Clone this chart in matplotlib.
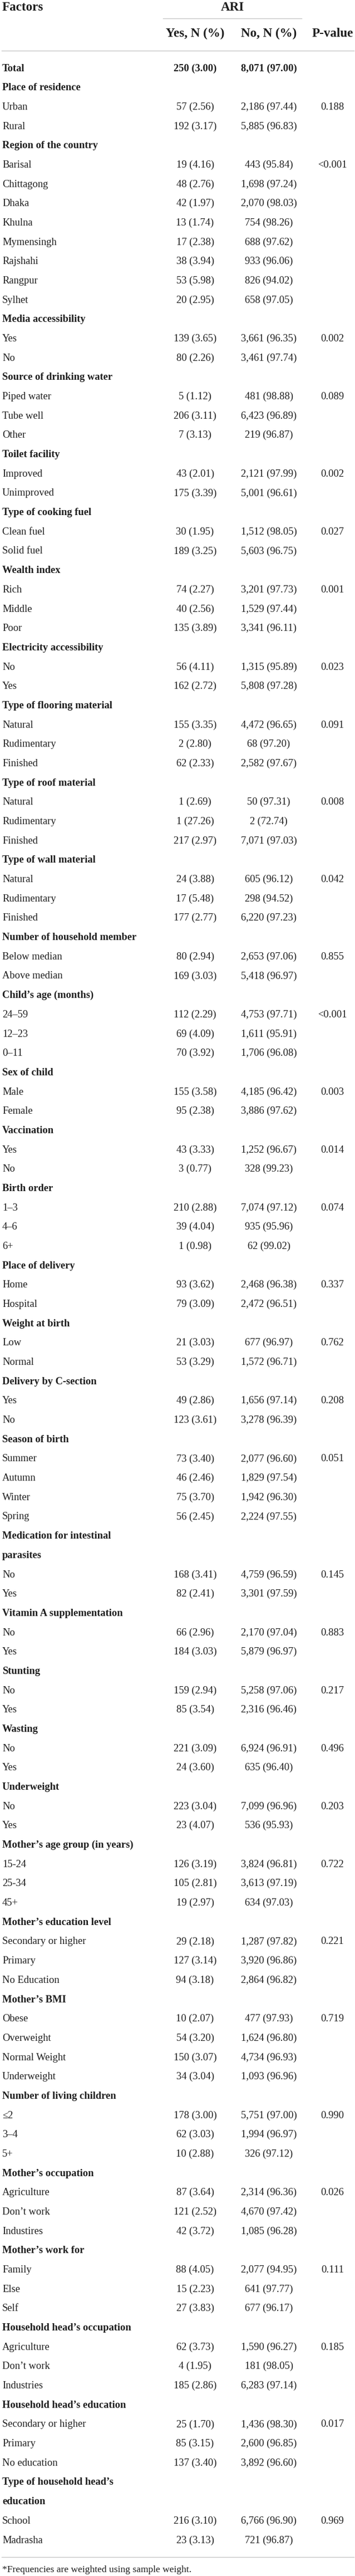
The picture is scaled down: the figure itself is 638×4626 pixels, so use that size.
import matplotlib.pyplot as plt

# Table: ARI by factors (weighted frequencies)
factors = [
    "Total",
    "Place of residence", "Urban", "Rural",
    "Region of the country", "Barisal", "Chittagong", "Dhaka", "Khulna",
    "Mymensingh", "Rajshahi", "Rangpur", "Sylhet",
    "Media accessibility", "Yes", "No",
    "Source of drinking water", "Piped water", "Tube well", "Other",
    "Toilet facility", "Improved", "Unimproved",
    "Type of cooking fuel", "Clean fuel", "Solid fuel",
    "Wealth index", "Rich", "Middle", "Poor",
    "Electricity accessibility", "No", "Yes",
    "Type of flooring material", "Natural", "Rudimentary", "Finished",
    "Type of roof material", "Natural", "Rudimentary", "Finished",
    "Type of wall material", "Natural", "Rudimentary", "Finished",
    "Number of household member", "Below median", "Above median",
    "Child\u2019s age (months)", "24\u201359", "12\u201323", "0\u201311",
    "Sex of child", "Male", "Female",
    "Vaccination", "Yes", "No",
    "Birth order", "1\u20133", "4\u20136", "6+",
    "Place of delivery", "Home", "Hospital",
    "Weight at birth", "Low", "Normal",
    "Delivery by C-section", "Yes", "No",
    "Season of birth", "Summer", "Autumn", "Winter", "Spring",
    "Medication for intestinal", "parasites", "No", "Yes",
    "Vitamin A supplementation", "No", "Yes",
    "Stunting", "No", "Yes",
    "Wasting", "No", "Yes",
    "Underweight", "No", "Yes",
    "Mother\u2019s age group (in years)", "15-24", "25-34", "45+",
    "Mother\u2019s education level", "Secondary or higher", "Primary", "No Education",
    "Mother\u2019s BMI", "Obese", "Overweight", "Normal Weight", "Underweight",
    "Number of living children", "\u22642", "3\u20134", "5+",
    "Mother\u2019s occupation", "Agriculture", "Don\u2019t work", "Industires",
    "Mother\u2019s work for", "Family", "Else", "Self",
    "Household head\u2019s occupation", "Agriculture", "Don\u2019t work", "Industries",
    "Household head\u2019s education", "Secondary or higher", "Primary", "No education",
    "Type of household head\u2019s", "education", "School", "Madrasha",
]

yes_n = [
    250,
    None, 57, 192,
    None, 19, 48, 42, 13, 17, 38, 53, 20,
    None, 139, 80,
    None, 5, 206, 7,
    None, 43, 175,
    None, 30, 189,
    None, 74, 40, 135,
    None, 56, 162,
    None, 155, 2, 62,
    None, 1, 1, 217,
    None, 24, 17, 177,
    None, 80, 169,
    None, 112, 69, 70,
    None, 155, 95,
    None, 43, 3,
    None, 210, 39, 1,
    None, 93, 79,
    None, 21, 53,
    None, 49, 123,
    None, 73, 46, 75, 56,
    None, None, 168, 82,
    None, 66, 184,
    None, 159, 85,
    None, 221, 24,
    None, 223, 23,
    None, 126, 105, 19,
    None, 29, 127, 94,
    None, 10, 54, 150, 34,
    None, 178, 62, 10,
    None, 87, 121, 42,
    None, 88, 15, 27,
    None, 62, 4, 185,
    None, 25, 85, 137,
    None, None, 216, 23,
]

yes_pct = [
    3.00,
    None, 2.56, 3.17,
    None, 4.16, 2.76, 1.97, 1.74, 2.38, 3.94, 5.98, 2.95,
    None, 3.65, 2.26,
    None, 1.12, 3.11, 3.13,
    None, 2.01, 3.39,
    None, 1.95, 3.25,
    None, 2.27, 2.56, 3.89,
    None, 4.11, 2.72,
    None, 3.35, 2.80, 2.33,
    None, 2.69, 27.26, 2.97,
    None, 3.88, 5.48, 2.77,
    None, 2.94, 3.03,
    None, 2.29, 4.09, 3.92,
    None, 3.58, 2.38,
    None, 3.33, 0.77,
    None, 2.88, 4.04, 0.98,
    None, 3.62, 3.09,
    None, 3.03, 3.29,
    None, 2.86, 3.61,
    None, 3.40, 2.46, 3.70, 2.45,
    None, None, 3.41, 2.41,
    None, 2.96, 3.03,
    None, 2.94, 3.54,
    None, 3.09, 3.60,
    None, 3.04, 4.07,
    None, 3.19, 2.81, 2.97,
    None, 2.18, 3.14, 3.18,
    None, 2.07, 3.20, 3.07, 3.04,
    None, 3.00, 3.03, 2.88,
    None, 3.64, 2.52, 3.72,
    None, 4.05, 2.23, 3.83,
    None, 3.73, 1.95, 2.86,
    None, 1.70, 3.15, 3.40,
    None, None, 3.10, 3.13,
]

no_n = [
    8071,
    None, 2186, 5885,
    None, 443, 1698, 2070, 754, 688, 933, 826, 658,
    None, 3661, 3461,
    None, 481, 6423, 219,
    None, 2121, 5001,
    None, 1512, 5603,
    None, 3201, 1529, 3341,
    None, 1315, 5808,
    None, 4472, 68, 2582,
    None, 50, 2, 7071,
    None, 605, 298, 6220,
    None, 2653, 5418,
    None, 4753, 1611, 1706,
    None, 4185, 3886,
    None, 1252, 328,
    None, 7074, 935, 62,
    None, 2468, 2472,
    None, 677, 1572,
    None, 1656, 3278,
    None, 2077, 1829, 1942, 2224,
    None, None, 4759, 3301,
    None, 2170, 5879,
    None, 5258, 2316,
    None, 6924, 635,
    None, 7099, 536,
    None, 3824, 3613, 634,
    None, 1287, 3920, 2864,
    None, 477, 1624, 4734, 1093,
    None, 5751, 1994, 326,
    None, 2314, 4670, 1085,
    None, 2077, 641, 677,
    None, 1590, 181, 6283,
    None, 1436, 2600, 3892,
    None, None, 6766, 721,
]

no_pct = [
    97.00,
    None, 97.44, 96.83,
    None, 95.84, 97.24, 98.03, 98.26, 97.62, 96.06, 94.02, 97.05,
    None, 96.35, 97.74,
    None, 98.88, 96.89, 96.87,
    None, 97.99, 96.61,
    None, 98.05, 96.75,
    None, 97.73, 97.44, 96.11,
    None, 95.89, 97.28,
    None, 96.65, 97.20, 97.67,
    None, 97.31, 72.74, 97.03,
    None, 96.12, 94.52, 97.23,
    None, 97.06, 96.97,
    None, 97.71, 95.91, 96.08,
    None, 96.42, 97.62,
    None, 96.67, 99.23,
    None, 97.12, 95.96, 99.02,
    None, 96.38, 96.51,
    None, 96.97, 96.71,
    None, 97.14, 96.39,
    None, 96.60, 97.54, 96.30, 97.55,
    None, None, 96.59, 97.59,
    None, 97.04, 96.97,
    None, 97.06, 96.46,
    None, 96.91, 96.40,
    None, 96.96, 95.93,
    None, 96.81, 97.19, 97.03,
    None, 97.82, 96.86, 96.82,
    None, 97.93, 96.80, 96.93, 96.96,
    None, 97.00, 96.97, 97.12,
    None, 96.36, 97.42, 96.28,
    None, 94.95, 97.77, 96.17,
    None, 96.27, 98.05, 97.14,
    None, 98.30, 96.85, 96.60,
    None, None, 96.90, 96.87,
]

# one p-value per factor group (shown on its first category row)
p_values = [
    "0.188", "<0.001", "0.002", "0.089", "0.002", "0.027", "0.001", "0.023",
    "0.091", "0.008", "0.042", "0.855", "<0.001", "0.003", "0.014", "0.074",
    "0.337", "0.762", "0.208", "0.051", "0.145", "0.883", "0.217", "0.496",
    "0.203", "0.722", "0.221", "0.719", "0.990", "0.026", "0.111", "0.185",
    "0.017", "0.969",
]

footnote = "*Frequencies are weighted using sample weight."

# layout (pixels, figure is 638 x 4626 at 100 dpi)
W, H = 638, 4626
x_label, x_yes, x_no, x_p = 4, 350.6, 483.1, 597.3
first_row_y = 121.0
row_step = 34.68
base_off = 6.5
txt_col = "#1e1e1e"
rule_col = "#c8c8c8"
fam = ["Liberation Serif", "DejaVu Serif"]
body_fs = 13.3
head_fs = 16.6
foot_fs = 12.6

fig = plt.figure(figsize=(W / 100, H / 100), dpi=100)
ax = fig.add_axes([0, 0, 1, 1])
ax.set_xlim(0, W)
ax.set_ylim(H, 0)
ax.axis("off")

# header
ax.text(x_label, 19, "Factors", fontsize=head_fs, fontweight="bold",
        family=fam, color=txt_col, va="baseline", ha="left")
ax.text(417.9, 19, "ARI", fontsize=head_fs, fontweight="bold",
        family=fam, color=txt_col, va="baseline", ha="center")
ax.plot([292.7, 542.2], [33.3, 33.3], color=rule_col, lw=1.0)
for x, s in [(x_yes, "Yes, N (%)"), (x_no, "No, N (%)"), (x_p, "P-value")]:
    ax.text(x, 65.7, s, fontsize=head_fs, fontweight="bold", family=fam,
            color=txt_col, va="baseline", ha="center")
ax.plot([3, 636], [90.7, 90.7], color=rule_col, lw=1.0)

# body rows
pending = False
p_iter = iter(p_values)
for i, lab in enumerate(factors):
    yb = first_row_y + i * row_step + base_off
    is_head = yes_n[i] is None
    bold = is_head or lab == "Total"
    wt = "bold" if bold else "normal"
    ax.text(x_label, yb, lab, fontsize=body_fs, fontweight=wt, family=fam,
            color=txt_col, va="baseline", ha="left")
    if is_head:
        pending = True
        continue
    ax.text(x_yes, yb, f"{yes_n[i]:,} ({yes_pct[i]:.2f})", fontsize=body_fs,
            fontweight=wt, family=fam, color=txt_col, va="baseline", ha="center")
    ax.text(x_no, yb, f"{no_n[i]:,} ({no_pct[i]:.2f})", fontsize=body_fs,
            fontweight=wt, family=fam, color=txt_col, va="baseline", ha="center")
    if pending:
        ax.text(x_p, yb, next(p_iter), fontsize=body_fs, family=fam,
                color=txt_col, va="baseline", ha="center")
        pending = False

# bottom rule and footnote
ax.plot([3, 636], [4592, 4592], color=rule_col, lw=1.0)
ax.text(x_label, 4619.3, footnote, fontsize=foot_fs, family=fam,
        color=txt_col, va="baseline", ha="left")

fig.savefig("out.png", dpi=100)
